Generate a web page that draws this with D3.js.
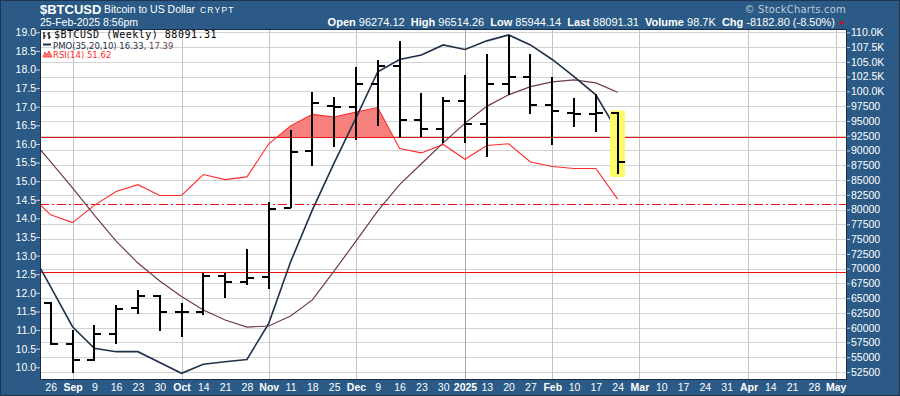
<!DOCTYPE html>
<html>
<head>
<meta charset="utf-8">
<script src="https://cdn.jsdelivr.net/npm/d3@7"></script>
<style>
  html, body { margin: 0; padding: 0; background: #2a5a85; }
  svg { display: block; }
</style>
</head>
<body>
<div id="chart"></div>
<script>
// weekly bars (Monday of each week)
const barDates = ["2024-08-26","2024-09-02","2024-09-09","2024-09-16","2024-09-23","2024-09-30",
  "2024-10-07","2024-10-14","2024-10-21","2024-10-28","2024-11-04","2024-11-11","2024-11-18",
  "2024-11-25","2024-12-02","2024-12-09","2024-12-16","2024-12-23","2024-12-30","2025-01-06",
  "2025-01-13","2025-01-20","2025-01-27","2025-02-03","2025-02-10","2025-02-17","2025-02-24"];
const open  = [64100,57200,54500,58900,63300,65400,62600,62700,68700,67700,68600,80200,89900,97500,
  97300,101300,104300,95200,93700,98300,94500,101300,102400,97700,96300,96200,96274.12];
const high  = [64400,59600,60500,63800,66300,65500,64100,69200,69200,73400,81300,93500,99900,99000,
  104100,105300,108500,99800,99000,102800,106400,109500,106400,102500,98800,99500,96514.26];
const low   = [57000,52300,54300,57200,62300,59500,58500,62100,65000,67200,66500,80200,87400,90600,
  91800,94200,92100,92300,91200,91200,88900,99400,96100,91000,94000,93200,85944.14];
const close = [57200,54500,58900,63100,65400,62700,62700,68700,67700,68400,80100,89800,98000,97400,
  101300,104300,95200,93700,98300,94500,101300,102400,97700,96700,96200,96270,88091.31];

// indicator lines start one week earlier (runs off the left edge)
const lineDates = ["2024-08-19"].concat(barDates);
const rsi       = [53.1,47.0,44.7,49.8,53.9,55.9,52.7,52.7,58.9,57.4,58.2,68.0,73.3,76.7,75.9,77.4,
  78.7,66.6,65.3,67.8,63.4,67.5,68.0,62.6,61.3,60.7,60.7,51.62];
const pmo       = [13.22,12.16,11.09,10.51,10.42,10.42,10.13,9.84,10.08,10.15,10.21,11.18,12.83,14.23,
  15.49,16.70,17.94,18.27,18.39,18.66,18.54,18.77,18.93,18.66,18.27,17.81,17.32,16.33];
const pmoSignal = [16.21,15.52,14.82,14.09,13.39,12.80,12.32,11.90,11.54,11.27,11.08,11.11,11.38,11.81,
  12.59,13.39,14.20,14.91,15.47,16.03,16.56,17.01,17.32,17.54,17.67,17.72,17.64,17.39];

// axis labels
const axisLabels = ["26","Sep","9","16","23","30","Oct","14","21","28","Nov","11","18","25","Dec",
  "9","16","23","30","2025","13","20","27","Feb","10","17","24","Mar","10","17","24","31","Apr",
  "14","21","28","May"];
const pmoTicks = [19.0,18.5,18.0,17.5,17.0,16.5,16.0,15.5,15.0,14.5,14.0,13.5,13.0,12.5,12.0,11.5,11.0,10.5,10.0];
const priceTicks = [110000,107500,105000,102500,100000,97500,95000,92500,90000,87500,85000,82500,80000,
  77500,75000,72500,70000,67500,65000,62500,60000,57500,55000,52500];
const rsiLevels = [70, 50, 30];

const W = 900, H = 396;
const pL = 40, pR = 847, pT = 29, pB = 380;
const font = "'Liberation Sans', Arial, sans-serif";
const parse = d3.utcParse("%Y-%m-%d");
const day = 864e5;

const bars = barDates.map((d, i) => ({date: parse(d), o: open[i], h: high[i], l: low[i], c: close[i]}));
const lines = lineDates.map((d, i) => ({date: parse(d), rsi: rsi[i], pmo: pmo[i], sig: pmoSignal[i]}));
const axisDates = d3.utcMonday.range(Date.UTC(2024, 7, 26), Date.UTC(2025, 4, 6));

const x = d3.scaleUtc()
  .domain([new Date(Date.UTC(2024, 7, 26) - 3.435 * day), new Date(Date.UTC(2025, 4, 5) + 3.627 * day)])
  .range([pL, pR]);
const yPrice = d3.scaleLinear().domain([52500, 110000]).range([372, 32.3]);
const yPmo = d3.scaleLinear().domain([10, 19]).range([367.3, 32.3]);
const yRsi = d3.scaleLinear().domain([30, 70]).range([272.3, 137]);

const svg = d3.select("#chart").append("svg")
  .attr("width", W).attr("height", H)
  .style("font-family", font);

svg.append("rect").attr("width", W).attr("height", H).attr("fill", "#2a5a85");
svg.append("rect").attr("x", 0.5).attr("y", 0.5).attr("width", W - 1).attr("height", H - 1)
  .attr("fill", "none").attr("stroke", "#1c3550");

const defs = svg.append("defs");
defs.append("clipPath").attr("id", "plot")
  .append("rect").attr("x", pL).attr("y", pT).attr("width", pR - pL).attr("height", pB - pT);
defs.append("clipPath").attr("id", "above70")
  .append("rect").attr("x", pL).attr("y", pT).attr("width", pR - pL).attr("height", yRsi(70) - pT);

// plot background
svg.append("rect").attr("x", pL).attr("y", pT).attr("width", pR - pL).attr("height", pB - pT)
  .attr("fill", "#fff");

const plot = svg.append("g").attr("clip-path", "url(#plot)");

// grid
plot.append("g").selectAll("line").data(priceTicks).join("line")
  .attr("x1", pL).attr("x2", pR)
  .attr("y1", d => Math.round(yPrice(d)) + 0.5).attr("y2", d => Math.round(yPrice(d)) + 0.5)
  .attr("stroke", "#d3d3d3");
const monthDates = axisDates.filter((d, i) => !/^\d{1,2}$/.test(axisLabels[i]));
plot.append("g").selectAll("line").data(monthDates).join("line")
  .attr("x1", d => Math.round(x(d)) + 0.5).attr("x2", d => Math.round(x(d)) + 0.5)
  .attr("y1", pT).attr("y2", pB)
  .attr("stroke", d => d.getUTCMonth() === 0 ? "#a8a8a8" : "#c4c4c4");

// RSI overbought fill
plot.append("path")
  .datum(lines)
  .attr("clip-path", "url(#above70)")
  .attr("fill", "#f6807c")
  .attr("d", d3.area().x(d => x(d.date)).y0(yRsi(70)).y1(d => yRsi(d.rsi)));

// RSI levels
plot.append("g").selectAll("line").data(rsiLevels).join("line")
  .attr("x1", pL).attr("x2", pR)
  .attr("y1", d => Math.floor(yRsi(d)) + 0.5).attr("y2", d => Math.floor(yRsi(d)) + 0.5)
  .attr("stroke", "#ee1111").attr("stroke-width", 1)
  .attr("shape-rendering", "crispEdges")
  .attr("stroke-dasharray", d => d === 50 ? "9,3,2,3" : null);

// RSI line
plot.append("path").datum(lines)
  .attr("fill", "none").attr("stroke", "#ff2b2b").attr("stroke-width", 1.1)
  .attr("d", d3.line().x(d => x(d.date)).y(d => yRsi(d.rsi)));

// PMO signal + PMO
plot.append("path").datum(lines)
  .attr("fill", "none").attr("stroke", "#6e3a4e").attr("stroke-width", 1.2)
  .attr("d", d3.line().x(d => x(d.date)).y(d => yPmo(d.sig)));
plot.append("path").datum(lines)
  .attr("fill", "none").attr("stroke", "#1e3149").attr("stroke-width", 1.6)
  .attr("d", d3.line().x(d => x(d.date)).y(d => yPmo(d.pmo)));

// highlight last bar
const last = bars[bars.length - 1];
plot.append("rect")
  .attr("x", x(last.date) - 7.7).attr("width", 15)
  .attr("y", yPrice(last.h) - 1.5).attr("height", yPrice(last.l) - yPrice(last.h) + 4)
  .attr("fill", "#fbfb6c");

// OHLC bars
plot.append("g").selectAll("path").data(bars).join("path")
  .attr("fill", "none").attr("stroke", "#000").attr("stroke-width", 2)
  .attr("shape-rendering", "crispEdges")
  .attr("d", d => {
    const cx = x(d.date);
    return `M${cx},${yPrice(d.h)}V${yPrice(d.l)}M${cx - 7},${yPrice(d.o)}H${cx}M${cx},${yPrice(d.c)}H${cx + 7}`;
  });

// plot border
svg.append("rect").attr("x", pL + 0.5).attr("y", pT + 0.5)
  .attr("width", pR - pL - 1).attr("height", pB - pT - 1)
  .attr("fill", "none").attr("stroke", "#1a2d44");

// axes
function styleAxis(g) {
  g.select(".domain").remove();
  g.selectAll(".tick line").attr("stroke", "#c5d0dc");
  g.selectAll("text").attr("fill", "#fff").style("font-size", "10.5px").style("font-family", font);
}
svg.append("g").attr("transform", `translate(${pL},0)`)
  .call(d3.axisLeft(yPmo).tickValues(pmoTicks).tickFormat(d3.format(".1f")).tickSize(4).tickPadding(0))
  .call(styleAxis);
svg.append("g").attr("transform", `translate(${pR},0)`)
  .call(d3.axisRight(yPrice).tickValues(priceTicks)
    .tickFormat(d => d >= 100000 ? (d / 1000).toFixed(1) + "K" : d3.format("d")(d))
    .tickSize(3).tickPadding(1))
  .call(styleAxis);
svg.append("g").attr("transform", `translate(0,${pB})`)
  .call(d3.axisBottom(x).tickValues(axisDates).tickFormat((d, i) => axisLabels[i]).tickSize(0).tickPadding(3.5))
  .call(styleAxis)
  .call(g => g.selectAll("text").style("font-weight", (d, i) => /^\d{1,2}$/.test(axisLabels[i]) ? "normal" : "bold"));

// header
svg.append("text").attr("x", 40).attr("y", 13.5).attr("fill", "#fff")
  .style("font-size", "13px").style("font-weight", "bold").text("$BTCUSD");
svg.append("text").attr("x", 104).attr("y", 13).attr("fill", "#fff")
  .style("font-size", "10.5px").text("Bitcoin to US Dollar");
svg.append("text").attr("x", 200).attr("y", 13).attr("fill", "#fff")
  .style("font-size", "8.5px").style("letter-spacing", "1.2px").text("CRYPT");
svg.append("text").attr("x", 40).attr("y", 26).attr("fill", "#fff")
  .style("font-size", "10.5px").text("25-Feb-2025 8:56pm");
svg.append("text").attr("x", 846).attr("y", 12.5).attr("text-anchor", "end").attr("fill", "#bccbd9")
  .style("font-size", "10px").style("font-family", "'DejaVu Sans', sans-serif").style("letter-spacing", "0.2px")
  .text("\u00a9 StockCharts.com");

const stats = [["Open", "96274.12"], ["High", "96514.26"], ["Low", "85944.14"], ["Last", "88091.31"],
  ["Volume", "98.7K"], ["Chg", "-8182.80 (-8.50%)"]];
const st = svg.append("text").attr("x", 835).attr("y", 26).attr("text-anchor", "end")
  .attr("fill", "#fff").style("font-size", "11px").style("white-space", "pre");
stats.forEach(([k, v], i) => {
  st.append("tspan").style("font-weight", "bold").text((i ? "  " : "") + k + " ");
  st.append("tspan").text(v);
});
svg.append("path").attr("d", "M838.5,21.5H845L841.7,25.5Z").attr("fill", "#c4122f");

// legend inside plot
const lg = svg.append("g");
lg.append("path").attr("d", "M44,32V39M44,36H46M49,32V39M47,34H49M49,37H51")
  .attr("stroke", "#000").attr("stroke-width", 1.2).attr("fill", "none");
lg.append("text").attr("x", 54).attr("y", 38).attr("fill", "#000")
  .style("font-size", "10px").style("letter-spacing", "0.5px")
  .style("font-family", "'DejaVu Sans Mono', monospace")
  .text("$BTCUSD (Weekly) 88091.31");
lg.append("line").attr("x1", 43).attr("x2", 51).attr("y1", 44.5).attr("y2", 44.5)
  .attr("stroke", "#1e3149").attr("stroke-width", 2);
const lt = lg.append("text").attr("x", 53).attr("y", 48.5).style("font-size", "8.5px")
  .style("font-family", "'DejaVu Sans', sans-serif");
lt.append("tspan").attr("fill", "#1e3149").text("PMO(35,20,10) 16.33, ");
lt.append("tspan").attr("fill", "#6e3a4e").text("17.39");
lg.append("path").attr("d", "M43,57L45,52L47,55L49,51L52,57Z")
  .attr("fill", "#f6807c").attr("stroke", "#ff2b2b").attr("stroke-width", 0.8);
lg.append("text").attr("x", 53).attr("y", 57.5).attr("fill", "#ff2b2b").style("font-size", "8.5px")
  .style("font-family", "'DejaVu Sans', sans-serif").text("RSI(14) 51.62");
</script>
</body>
</html>
